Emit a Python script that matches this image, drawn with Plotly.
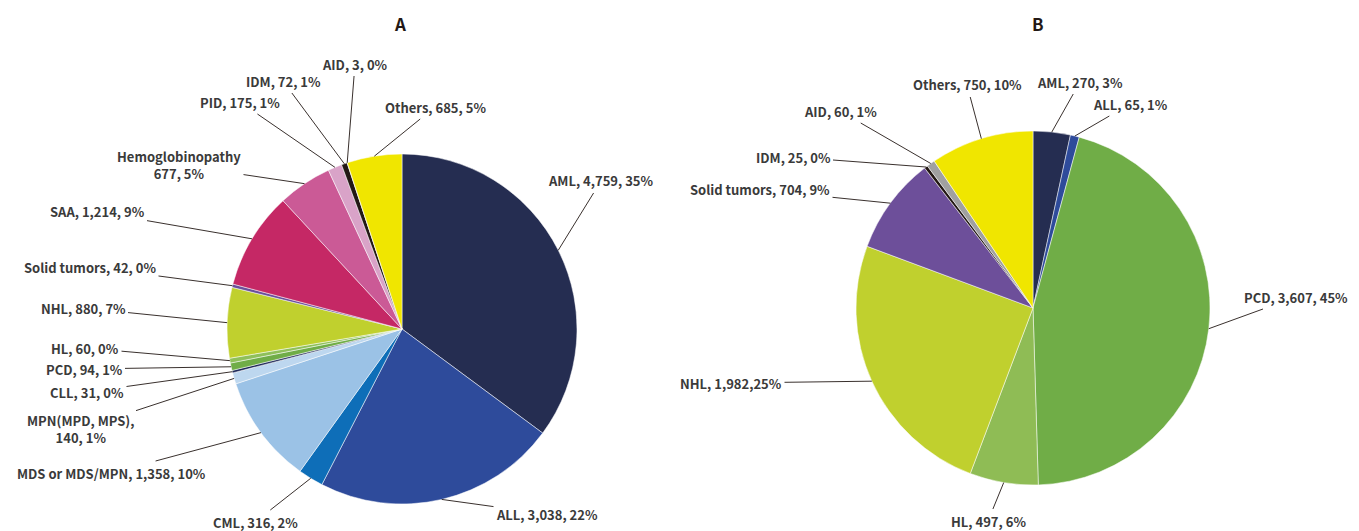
import math
import plotly.graph_objects as go

# page body has an 8px margin; build the figure so it fills the rest of the window
OFF = 8
W, H = 1359 - OFF, 531 - OFF

# ---------------- data ----------------
a_names = ["AML", "ALL", "CML", "MDS or MDS/MPN", "MPN(MPD, MPS)", "CLL", "PCD", "HL", "NHL",
           "Solid tumors", "SAA", "Hemoglobinopathy", "PID", "IDM", "AID", "Others"]
a_values = [4759, 3038, 316, 1358, 140, 31, 94, 60, 880, 42, 1214, 677, 175, 72, 3, 685]
a_pcts = [35, 22, 2, 10, 1, 0, 1, 0, 7, 0, 9, 5, 1, 1, 0, 5]

b_names = ["AML", "ALL", "PCD", "HL", "NHL", "Solid tumors", "IDM", "AID", "Others"]
b_values = [270, 65, 3607, 497, 1982, 704, 25, 60, 750]
b_pcts = [3, 1, 45, 6, 25, 9, 0, 1, 10]

# ---------------- styles ----------------
a_colors = ["#252d51", "#2e4b9b", "#0e6eb8", "#9bc2e6", "#bdd7ef", "#1f2a5a", "#70ad47", "#8fc05a",
            "#c0d02e", "#6a4f9c", "#c52865", "#cb5a96", "#d9a3c8", "#231815", "#a0a0a0", "#f0e600"]
b_colors = ["#252d51", "#2e4b9b", "#70ad47", "#8fbc55", "#c0d02e", "#6d4f9a", "#231815", "#a0a0a0", "#f0e600"]

def fmt(n, v, p):
    return f"{n}, {v:,}, {p}%"

a_texts = [fmt(n, v, p) for n, v, p in zip(a_names, a_values, a_pcts)]
a_texts[4] = "MPN(MPD, MPS),<br>140, 1%"
a_texts[11] = "Hemoglobinopathy<br>677, 5%"
b_texts = [fmt(n, v, p) for n, v, p in zip(b_names, b_values, b_pcts)]
b_texts[4] = "NHL, 1,982,25%"

# label text centres (window pixels) - layout only
a_label_pos = [(601, 181), (547, 514), (255, 522), (111, 473), (80, 429), (87, 392), (84, 369),
               (85, 348), (83, 308), (90, 267), (97, 212), (179, 165), (240, 102), (283, 81),
               (355, 64), (435, 107)]
b_label_pos = [(1080, 82), (1130, 104), (1296, 297), (988, 521), (731, 383), (760, 190),
               (793, 157), (840, 111), (967, 85)]

A_C, A_R = (402, 329), 175
B_C, B_R = (1033, 308), 177

def fx(x):
    return (x - OFF) / W

def fy(y):
    return 1 - (y - OFF) / H

def domain(c, r):
    return dict(x=[fx(c[0] - r), fx(c[0] + r)], y=[fy(c[1] + r), fy(c[1] - r)])

fig = go.Figure()
fig.add_trace(go.Pie(values=a_values, labels=a_names, sort=False, direction="clockwise", rotation=0,
                     marker=dict(colors=a_colors, line=dict(color="white", width=0.5)),
                     textinfo="none", hoverinfo="label+value+percent", domain=domain(A_C, A_R),
                     showlegend=False))
fig.add_trace(go.Pie(values=b_values, labels=b_names, sort=False, direction="clockwise", rotation=0,
                     marker=dict(colors=b_colors, line=dict(color="white", width=0.5)),
                     textinfo="none", hoverinfo="label+value+percent", domain=domain(B_C, B_R),
                     showlegend=False))

FONT = "Noto Sans CJK JP, Noto Sans, sans-serif"
anns = []

def add_labels(values, texts, positions, c, r):
    tot = sum(values)
    cum = 0
    for v, t, (lx, ly) in zip(values, texts, positions):
        mid = (cum + v / 2) / tot
        cum += v
        th = 2 * math.pi * mid
        px = c[0] + r * math.sin(th)
        py = c[1] - r * math.cos(th)
        anns.append(dict(x=fx(px), y=fy(py), xref="paper", yref="paper",
                         ax=lx - px, ay=ly - py, axref="pixel", ayref="pixel",
                         text=t, showarrow=True, arrowhead=0, arrowwidth=0.9, arrowcolor="#231815",
                         standoff=0, borderpad=2,
                         font=dict(family=FONT, size=13, color="#3a3a3a", weight=700)))

add_labels(a_values, a_texts, a_label_pos, A_C, A_R)
add_labels(b_values, b_texts, b_label_pos, B_C, B_R)

for txt, x in [("A", 400), ("B", 1038)]:
    anns.append(dict(x=fx(x), y=fy(24), xref="paper", yref="paper", text=txt, showarrow=False,
                     xanchor="center", yanchor="middle",
                     font=dict(family=FONT, size=17, color="#231815", weight=700)))

fig.update_layout(width=W, height=H, margin=dict(l=0, r=0, t=0, b=0),
                  paper_bgcolor="white", plot_bgcolor="white", annotations=anns)

fig.write_html("out.html")
